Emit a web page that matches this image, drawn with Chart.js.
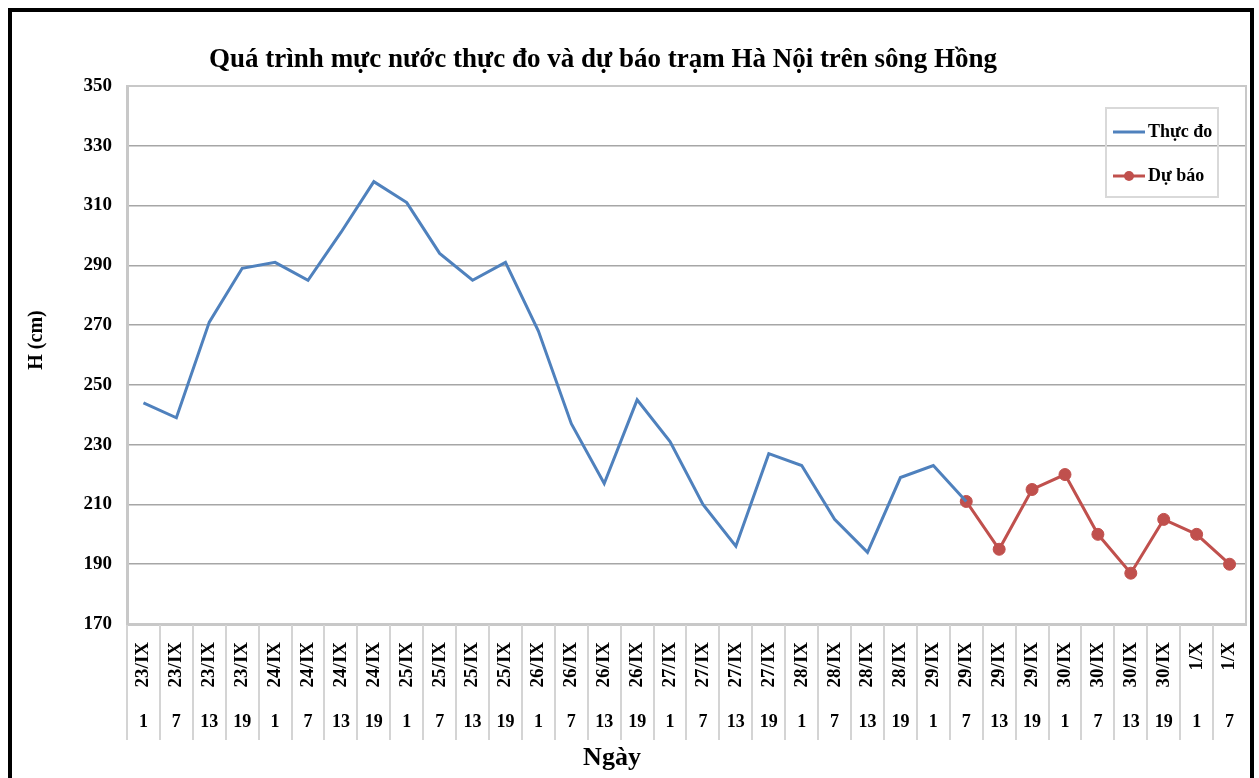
<!DOCTYPE html>
<html>
<head>
<meta charset="utf-8">
<script src="https://cdn.jsdelivr.net/npm/chart.js@4.4.1/dist/chart.umd.min.js"></script>
<style>
html, body { margin: 0; padding: 0; background: #fff; overflow: hidden; }
#wrap { position: relative; width: 1259px; height: 778px; }
#frame { position: absolute; left: 8px; top: 8px; width: 1238px; height: 800px; border: 4px solid #000; pointer-events: none; }
</style>
</head>
<body>
<div id="wrap">
    <canvas id="chart" width="1259" height="778"></canvas>
    <div id="frame"></div>
</div>
<script>
// Data
const dateLabels = ['23/IX', '23/IX', '23/IX', '23/IX', '24/IX', '24/IX', '24/IX', '24/IX',
    '25/IX', '25/IX', '25/IX', '25/IX', '26/IX', '26/IX', '26/IX', '26/IX',
    '27/IX', '27/IX', '27/IX', '27/IX', '28/IX', '28/IX', '28/IX', '28/IX',
    '29/IX', '29/IX', '29/IX', '29/IX', '30/IX', '30/IX', '30/IX', '30/IX', '1/X', '1/X'];
const hourLabels = ['1', '7', '13', '19', '1', '7', '13', '19', '1', '7', '13', '19', '1', '7', '13', '19',
    '1', '7', '13', '19', '1', '7', '13', '19', '1', '7', '13', '19', '1', '7', '13', '19', '1', '7'];
const measured = [244, 239, 271, 289, 291, 285, 301, 318, 311, 294, 285, 291, 268,
    237, 217, 245, 231, 210, 196, 227, 223, 205, 194, 219, 223, 211];
const forecastStart = 25;
const forecast = [211, 195, 215, 220, 200, 187, 205, 200, 190];
const yTicks = { min: 170, max: 350, step: 20 };

const TITLE = 'Quá trình mực nước thực đo và dự báo trạm Hà Nội trên sông Hồng';
const Y_TITLE = 'H (cm)';
const X_TITLE = 'Ngày';

const FONT = "'Liberation Serif', 'Times New Roman', serif";
const BLUE = '#4F81BD';
const RED = '#C0504D';

// Series padded with gaps so both share the category axis
const measuredSeries = measured.concat(new Array(dateLabels.length - measured.length).fill(null));
const forecastSeries = new Array(forecastStart).fill(null).concat(forecast);

// no label overhang padding, the plot area is fixed
const noOverhang = s => { s.paddingLeft = 0; s.paddingRight = 0; };

// Titles, legend, axis table separators
const decorPlugin = {
    id: 'decor',
    beforeDatasetsDraw(chart) {
        const { ctx, chartArea: a } = chart;
        ctx.save();
        ctx.strokeStyle = '#C8C8C8';
        ctx.lineWidth = 2;
        ctx.strokeRect(a.left, a.top, a.right - a.left, a.bottom - a.top);
        ctx.restore();
    },
    afterDraw(chart) {
        const { ctx, chartArea: a } = chart;
        const xs = chart.scales.x;
        const x2 = chart.scales.x2;
        ctx.save();

        // vertical separators below the plot
        const step = xs.getPixelForValue(1) - xs.getPixelForValue(0);
        ctx.strokeStyle = '#D4D4D4';
        ctx.lineWidth = 2;
        for (let i = 0; i < dateLabels.length; i++) {
            const x = Math.round(xs.getPixelForValue(i) - step / 2);
            ctx.beginPath();
            ctx.moveTo(x, a.bottom + 1);
            ctx.lineTo(x, x2.top + 36);
            ctx.stroke();
        }

        // titles
        ctx.fillStyle = '#000';
        ctx.textAlign = 'center';
        ctx.textBaseline = 'middle';
        ctx.font = `bold 27px ${FONT}`;
        ctx.fillText(TITLE, 603, 60);
        ctx.font = `bold 26px ${FONT}`;
        ctx.fillText(X_TITLE, 612, 758);
        ctx.save();
        ctx.translate(37, 340);
        ctx.rotate(-Math.PI / 2);
        ctx.font = `bold 20px ${FONT}`;
        ctx.fillText(Y_TITLE, 0, 0);
        ctx.restore();

        // legend box
        ctx.strokeStyle = '#D9D9D9';
        ctx.lineWidth = 2;
        ctx.strokeRect(1106, 108, 112, 89);
        const rows = [132, 176];
        chart.data.datasets.forEach((ds, i) => {
            const y = rows[i];
            ctx.strokeStyle = ds.borderColor;
            ctx.lineWidth = 3;
            ctx.beginPath();
            ctx.moveTo(1113, y);
            ctx.lineTo(1145, y);
            ctx.stroke();
            if (ds.pointRadius > 0) {
                ctx.fillStyle = ds.pointBackgroundColor;
                ctx.beginPath();
                ctx.arc(1129, y, 5, 0, Math.PI * 2);
                ctx.fill();
            }
            ctx.fillStyle = '#000';
            ctx.textAlign = 'left';
            ctx.font = `bold 18px ${FONT}`;
            ctx.fillText(ds.label, 1148, y);
        });
        ctx.restore();
    }
};

new Chart(document.getElementById('chart'), {
    type: 'line',
    data: {
        labels: dateLabels,
        datasets: [{
            label: 'Thực đo',
            data: measuredSeries,
            borderColor: BLUE,
            backgroundColor: BLUE,
            borderWidth: 3,
            pointRadius: 0,
            tension: 0
        }, {
            label: 'Dự báo',
            data: forecastSeries,
            borderColor: RED,
            backgroundColor: RED,
            pointBackgroundColor: RED,
            pointBorderColor: RED,
            borderWidth: 3,
            pointRadius: 6,
            pointBorderWidth: 1,
            tension: 0
        }]
    },
    options: {
        responsive: false,
        animation: false,
        devicePixelRatio: 1,
        layout: { padding: { top: 86, right: 13, left: 0, bottom: 0 } },
        plugins: {
            legend: { display: false },
            title: { display: false },
            tooltip: { enabled: false }
        },
        scales: {
            x: {
                type: 'category',
                position: 'bottom',
                offset: true,
                grid: { display: false },
                border: { display: true, color: '#C8C8C8', width: 3 },
                ticks: {
                    autoSkip: false,
                    minRotation: 90,
                    maxRotation: 90,
                    padding: 10,
                    color: '#000',
                    font: { family: FONT, size: 19, weight: 'bold' }
                },
                afterFit: s => { s.height = 80; noOverhang(s); }
            },
            x2: {
                type: 'category',
                position: 'bottom',
                labels: hourLabels,
                offset: true,
                grid: { display: false },
                border: { display: false },
                ticks: {
                    autoSkip: false,
                    maxRotation: 0,
                    padding: 0,
                    color: '#000',
                    font: { family: FONT, size: 18, weight: 'bold' }
                },
                afterFit: s => { s.height = 74; noOverhang(s); }
            },
            y: {
                min: yTicks.min,
                max: yTicks.max,
                grid: { color: '#A6A6A6', lineWidth: 1.5, drawTicks: false },
                border: { display: true, color: '#C8C8C8', width: 3 },
                ticks: {
                    stepSize: yTicks.step,
                    padding: 15,
                    color: '#000',
                    font: { family: FONT, size: 19, weight: 'bold' }
                },
                afterFit: s => { s.width = 127; }
            }
        }
    },
    plugins: [decorPlugin]
});
</script>
</body>
</html>
